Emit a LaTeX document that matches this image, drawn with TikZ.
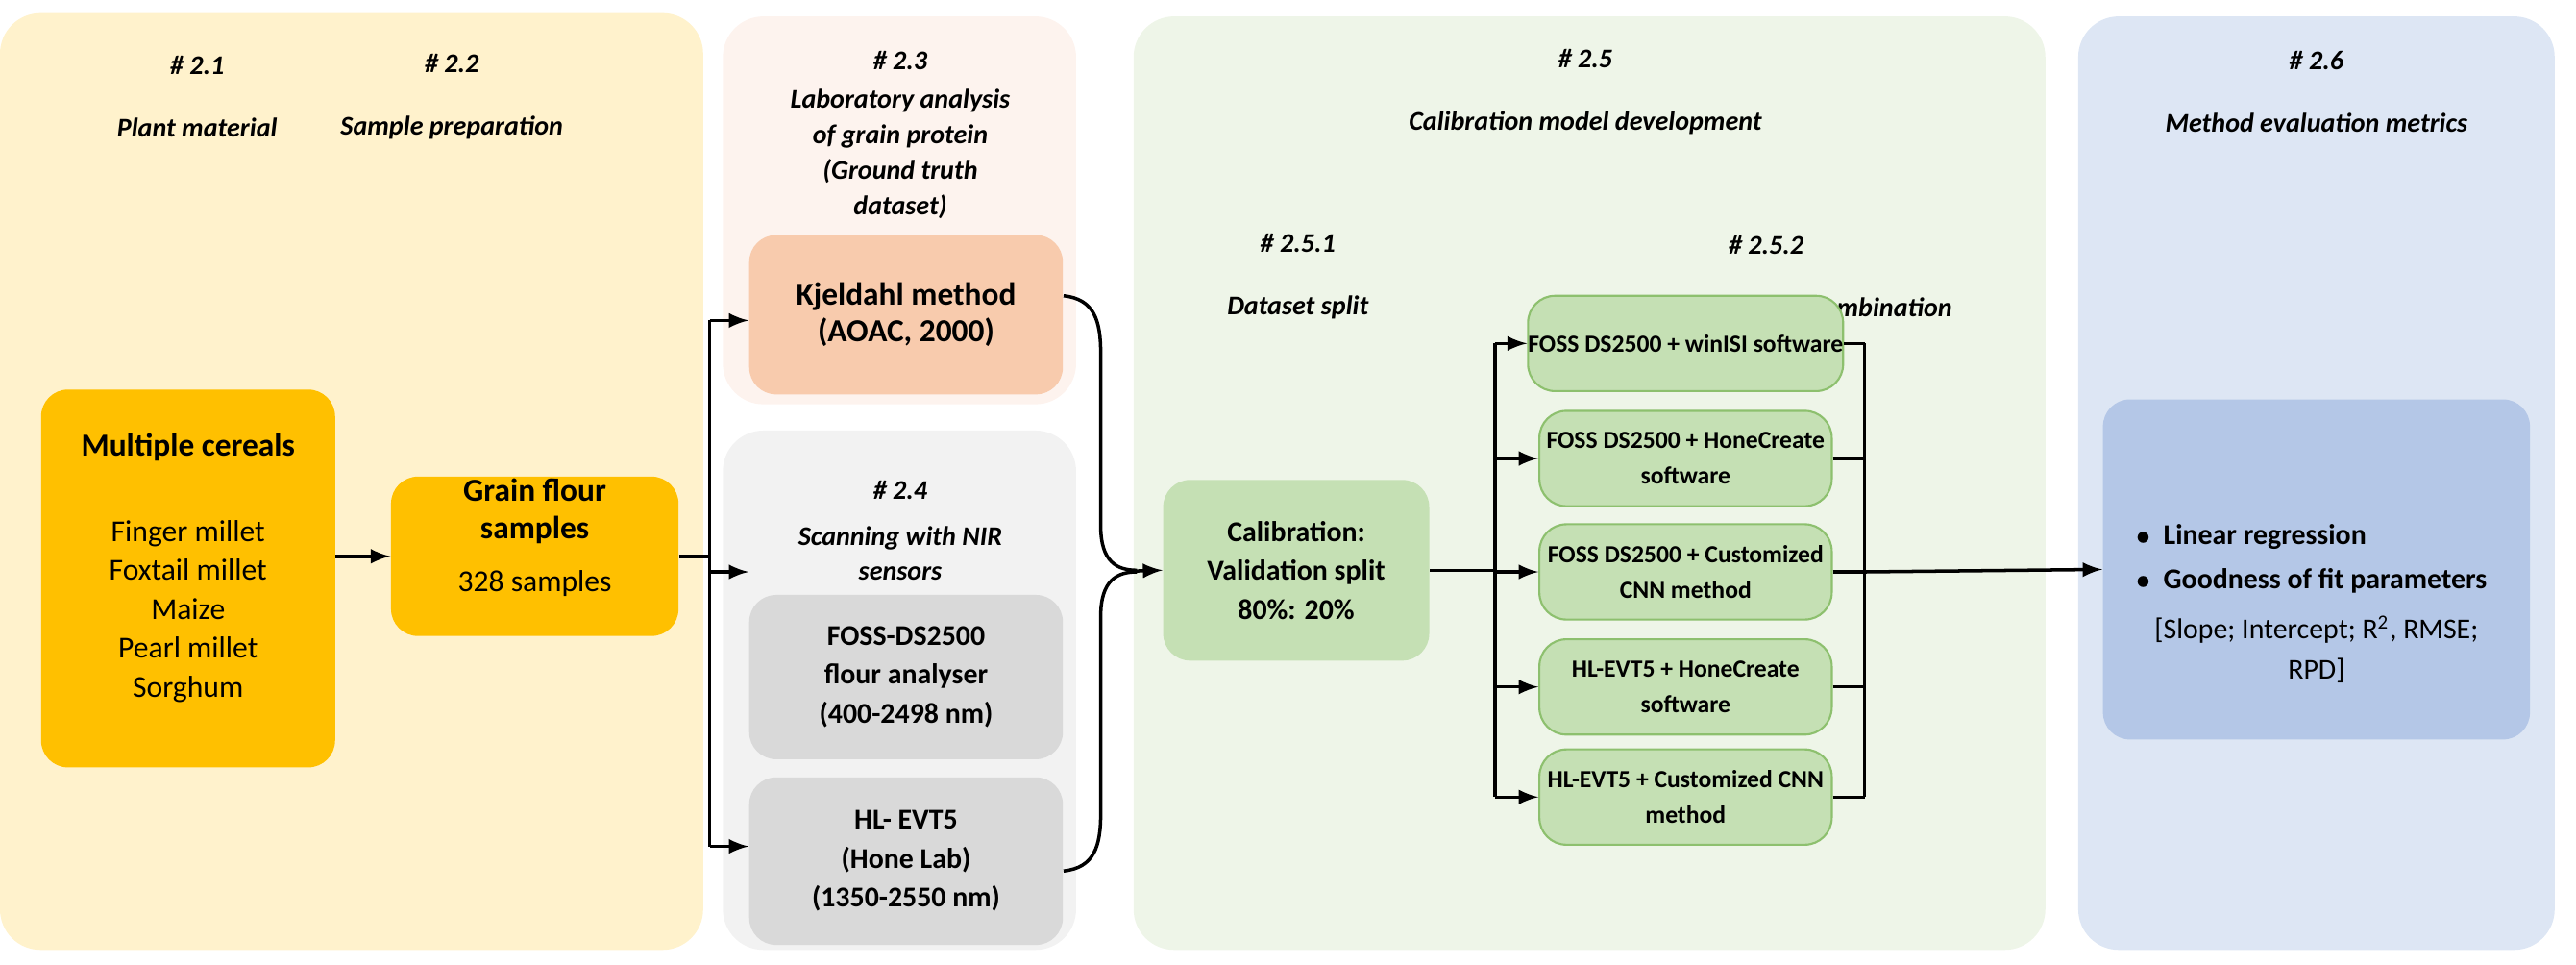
\documentclass[tikz,border=0pt]{standalone}
\usepackage{fontspec}
\setmainfont{Carlito}
\begin{document}
\begin{tikzpicture}[x=0.0171cm,y=-0.0171cm,font=\fontsize{9.5}{11}\selectfont,
 box/.style={rounded corners=8pt,align=center,inner sep=0pt},
 t/.style={align=center,font=\fontsize{8}{10.5}\selectfont\bfseries\itshape},
 ar/.style={-latex,line width=1pt},
 ln/.style={line width=1pt}]
\useasboundingbox (0,0) rectangle (1568,587);
\definecolor{py}{HTML}{FFF2CC}\definecolor{pp}{HTML}{FDF3EE}\definecolor{pg}{HTML}{F2F2F2}
\definecolor{pgr}{HTML}{EEF5E8}\definecolor{pb}{HTML}{DDE6F4}
\definecolor{yel}{HTML}{FFC000}\definecolor{sal}{HTML}{F8CBAD}\definecolor{gry}{HTML}{D9D9D9}
\definecolor{grn}{HTML}{C5E0B4}\definecolor{grnb}{HTML}{8DC06E}\definecolor{blu}{HTML}{B4C7E7}
% panels
\fill[py,rounded corners=12pt] (0,8) rectangle (428,578);
\fill[pp,rounded corners=12pt] (440,10) rectangle (655,246);
\fill[pg,rounded corners=12pt] (440,262) rectangle (655,578);
\fill[pgr,rounded corners=12pt] (690,10) rectangle (1245,578);
\fill[pb,rounded corners=12pt] (1265,10) rectangle (1555,578);
% headings
\node[t] (h21) at (120,59) {\# 2.1\\[8pt]Plant material};
\node[t] (h22) at (275,59) {\# 2.2\\[8pt]Sample preparation};
\node[t] (h23) at (548,82) {\# 2.3\\[1pt]Laboratory analysis\\of grain protein\\(Ground truth\\dataset)};
\node[t] (h24) at (548,323) {\# 2.4\\[3pt]Scanning with NIR\\sensors};
\node[t] (h25) at (965,56) {\# 2.5\\[8pt]Calibration model development};
\node[t] (h251) at (790,168) {\# 2.5.1\\[8pt]Dataset split};
\node[t] (h252) at (1075,168) {\# 2.5.2\\[8pt]Instrument--Method combination};
\node[t] (h26) at (1410,56) {\# 2.6\\[8pt]Method evaluation metrics};
% boxes
\node[box,fill=yel,minimum width=3.061cm,minimum height=3.933cm] (mc) at (114.5,352) {};
\node (mct) at (114.5,272) {\bfseries Multiple cereals};
\node[align=center,font=\fontsize{9}{11.5}\selectfont] (mcl) at (114.5,372) {Finger millet\\Foxtail millet\\Maize\\Pearl millet\\Sorghum};
\node[box,fill=yel,minimum width=2.993cm,minimum height=1.659cm] (gf) at (325.5,338.5) {};
\node[align=center] (gft) at (325.5,311) {\bfseries Grain flour\\\bfseries samples};
\node[font=\fontsize{9}{11}\selectfont] (gfs) at (325.5,355) {328 samples};
\node[box,fill=sal,minimum width=3.266cm,minimum height=1.659cm] (kj) at (551.5,191.5) {\bfseries Kjeldahl method\\\bfseries(AOAC, 2000)};
\node[box,fill=gry,minimum width=3.266cm,minimum height=1.710cm,font=\fontsize{8.5}{11.5}\selectfont] (fo) at (551.5,412) {\bfseries FOSS-DS2500\\\bfseries flour analyser\\\bfseries(400-2498 nm)};
\node[box,fill=gry,minimum width=3.266cm,minimum height=1.744cm,font=\fontsize{8.5}{11.5}\selectfont] (hl) at (551.5,524) {\bfseries HL- EVT5\\\bfseries(Hone Lab)\\\bfseries(1350-2550 nm)};
\node[box,fill=grn,minimum width=2.770cm,minimum height=1.881cm,font=\fontsize{8.5}{11.5}\selectfont] (ca) at (789,347) {\bfseries Calibration:\\\bfseries Validation split\\\bfseries 80\%: 20\%};
\tikzset{gb/.style={box,fill=grn,draw=grnb,line width=0.6pt,minimum width=3.044cm,minimum height=0.992cm,font=\fontsize{7.3}{10.5}\selectfont\bfseries}}
\node[gb] (b1) at (1026,209) {FOSS DS2500 + winISI software};
\node[gb] (b2) at (1026,279) {FOSS DS2500 + HoneCreate\\software};
\node[gb] (b3) at (1026,348) {FOSS DS2500 + Customized\\CNN method};
\node[gb] (b4) at (1026,418) {HL-EVT5 + HoneCreate\\software};
\node[gb] (b5) at (1026,485) {HL-EVT5 + Customized CNN\\method};
\node[box,fill=blu,minimum width=4.446cm,minimum height=3.540cm] (ev) at (1410,346.5) {};
\node[align=left,anchor=west,font=\fontsize{8.5}{11}\selectfont] (evb) at (1293,340) {\bfseries$\bullet$\ \ Linear regression\\[2pt]\bfseries$\bullet$\ \ Goodness of fit parameters};
\node[align=center,font=\fontsize{8.5}{12}\selectfont] (evt) at (1410,395) {[Slope; Intercept; R\textsuperscript{2}, RMSE;\\RPD]};
% connectors
\coordinate (c1) at (910,0);
\coordinate (c2) at (1135,0);
\draw[ar] (mc.east|-gf) -- (gf.west);
\draw[ln] (gf.east) -- (432,338.5);
\draw[ar] (432,195) -- (kj.west|-0,195);
\draw[ar] (432,348) -- (fo.west|-0,348);
\draw[ar] (432,515) -- (hl.west|-0,515);
\draw[ln] (432,195) -- (432,515);
\draw[ln] (kj.east|-0,180) .. controls (666,182) and (670,195) .. (670,215) -- (670,320) .. controls (670,342) and (680,347) .. (692,347);
\draw[ln] (hl.east|-0,530) .. controls (666,528) and (670,515) .. (670,495) -- (670,375) .. controls (670,353) and (680,348) .. (692,348);
\draw[ar] (690,347.5) -- (ca.west);
\draw[ln] (ca.east) -- (910,347);
\draw[ln] (910,209) -- (910,485);
\foreach \b in {b1,b2,b3,b4,b5} \draw[ar] (c1|-\b) -- (\b.west);
\foreach \b in {b1,b2,b3,b4,b5} \draw[ln] (\b.east) -- (c2|-\b);
\draw[ln] (1135,209) -- (1135,485);
\draw[ar] (1135,348) -- (ev.west);
\end{tikzpicture}
\end{document}
